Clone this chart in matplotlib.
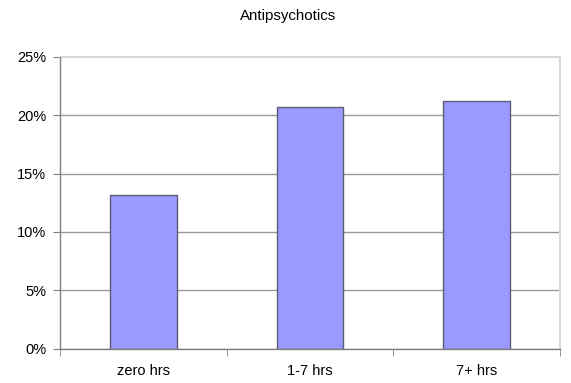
import numpy as np
import matplotlib.pyplot as plt
from matplotlib.ticker import FixedLocator, FuncFormatter

plt.rcParams['font.family'] = ['Liberation Sans', 'DejaVu Sans']

groups = ['zero hrs', '1-7 hrs', '7+ hrs']
share = [13.2, 20.7, 21.2]
yticks = [0, 5, 10, 15, 20, 25]

fig = plt.figure(figsize=(5.71, 3.83), dpi=100)
ax = fig.add_axes([60 / 571, (383 - 348.7) / 383, 500 / 571, 292 / 383])

x = np.arange(len(groups))
ax.bar(x, share, width=0.4, color='#9999ff', edgecolor='#5c5c7a', linewidth=1.0, zorder=3)

ax.set_xlim(-0.5, len(groups) - 0.5)
ax.set_ylim(0, 25)
ax.set_yticks(yticks)
ax.yaxis.set_major_formatter(FuncFormatter(lambda v, p: f'{v:.0f}%'))
ax.grid(axis='y', color='#999999', linewidth=1.0, zorder=0)
# the top edge is the light plot border, not a grid line
ax.get_ygridlines()[-1].set_visible(False)

ax.set_xticks(x)
ax.set_xticklabels(groups)
ax.xaxis.set_minor_locator(FixedLocator(np.arange(len(groups) + 1) - 0.5))
ax.tick_params(axis='x', which='major', length=0, pad=11, labelsize=10.5)
ax.tick_params(axis='x', which='minor', length=5, color='#808080')
ax.tick_params(axis='y', length=5, color='#808080', pad=5, labelsize=10.5)

for side in ['top', 'right']:
    ax.spines[side].set_color('#d8d8d8')
    ax.spines[side].set_linewidth(1.5)
for side in ['left', 'bottom']:
    ax.spines[side].set_color('#808080')
    ax.spines[side].set_linewidth(1.0)
    ax.spines[side].set_zorder(4)

fig.text(288 / 571, 1 - 16 / 383, 'Antipsychotics', ha='center', va='center', fontsize=10.8)

fig.savefig('out.png', dpi=100)
